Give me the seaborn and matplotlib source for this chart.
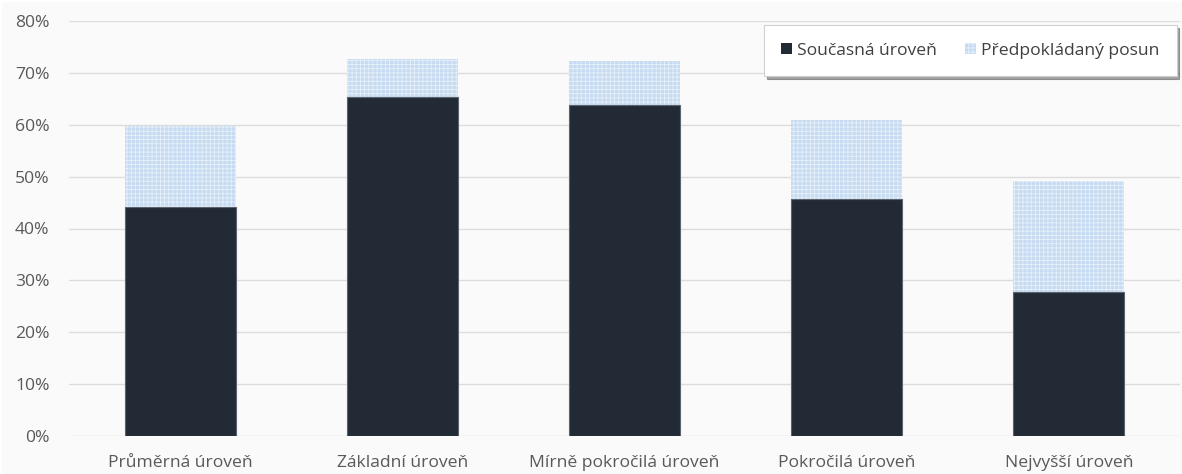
import matplotlib
matplotlib.use("Agg")
import matplotlib.pyplot as plt
import matplotlib.patches as mpatches
import seaborn as sns
import pandas as pd
from matplotlib.ticker import PercentFormatter

categories = ["Průměrná úroveň", "Základní úroveň", "Mírně pokročilá úroveň",
              "Pokročilá úroveň", "Nejvyšší úroveň"]
current = [44.1, 65.3, 63.9, 45.6, 27.8]
total = [59.7, 72.6, 72.3, 60.9, 49.1]
series_names = ["Současná úroveň", "Předpokládaný posun"]

sns.set_theme(style="white")
plt.rcParams['font.family'] = ['Open Sans', 'DejaVu Sans']
plt.rcParams['hatch.linewidth'] = 0.6

df = pd.DataFrame({"cat": categories, "current": current, "total": total})

fig = plt.figure(figsize=(11.82, 4.74), dpi=100)
fig.patch.set_facecolor("white")
fig.patches.append(mpatches.Rectangle((2 / 1182, 0), 1 - 2 / 1182, 1 - 2 / 474,
                                      transform=fig.transFigure, facecolor="#fafafa",
                                      edgecolor="none", zorder=-10))
ax = fig.add_axes([69 / 1182, 1 - 436 / 474, 1111 / 1182, 415 / 474])
ax.set_facecolor("#fafafa")

light = "#c6dbf1"
dark = "#222a35"

sns.barplot(data=df, x="cat", y="total", ax=ax, color=light, width=0.5,
            saturation=1, linewidth=0, zorder=2)
for p in ax.patches:
    p.set_hatch("++++")
    p.set_edgecolor("#e6f0fa")
    p.set_linewidth(0)
sns.barplot(data=df, x="cat", y="current", ax=ax, color=dark, width=0.5,
            saturation=1, linewidth=0.8, edgecolor="#5b6370", zorder=3)

ax.set_ylim(0, 80)
ax.set_xlim(-0.5, 4.5)
ax.set_yticks(range(0, 81, 10))
ax.yaxis.set_major_formatter(PercentFormatter(decimals=0))
ax.grid(axis="y", color="#dcdcdc", linewidth=1, zorder=0)
ax.set_axisbelow(True)
for s in ax.spines.values():
    s.set_visible(False)
ax.tick_params(axis="both", length=0, labelsize=12.6, colors="#595959")
ax.tick_params(axis="x", pad=14)
ax.tick_params(axis="y", pad=14)
ax.set_xlabel("")
ax.set_ylabel("")

h1 = mpatches.Patch(facecolor=dark, edgecolor="none", label=series_names[0])
h2 = mpatches.Patch(facecolor=light, edgecolor="#e6f0fa", hatch="++++",
                    linewidth=0, label=series_names[1])
leg = ax.legend(handles=[h1, h2], loc="upper right", bbox_to_anchor=(0.997, 0.99),
                borderaxespad=0, ncol=2, frameon=True, fancybox=False, shadow=True,
                fontsize=12.6, handlelength=0.6, handleheight=0.6, handletextpad=0.3,
                columnspacing=1.6, borderpad=1.0, labelcolor="#404040")
leg.get_frame().set_edgecolor("#d0d0d0")
leg.get_frame().set_facecolor("white")
leg.get_frame().set_linewidth(0.8)

fig.savefig("out.png", dpi=100, facecolor=fig.get_facecolor())
